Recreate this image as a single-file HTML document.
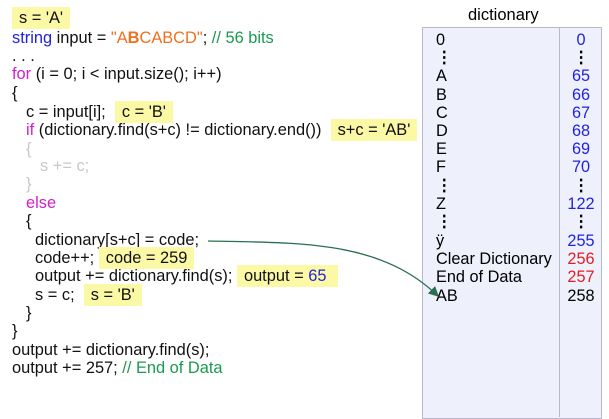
<!DOCTYPE html>
<html><head><meta charset="utf-8"><style>
body{margin:0;width:609px;height:415px;background:#fff;position:relative;overflow:hidden;font-family:"Liberation Sans",sans-serif;}
.l{position:absolute;font-size:16.4px;line-height:18px;white-space:pre;color:#111;}
.h{background:#fbf8a6;padding:2px 7px;}
.b{color:#2222dd}.m{color:#d020d0}.o{color:#f07020}.g{color:#1a9a50}.gr{color:#c8c8c8}
.panel{position:absolute;left:422px;top:27px;width:178px;height:390px;background:#eef1fc;border:1px solid #b8b8c8;}
.div{position:absolute;left:559px;top:27px;width:1px;height:390px;background:#b8b8c8;}
.d{position:absolute;font-size:16.3px;line-height:18px;white-space:pre;}
.r{position:absolute;font-size:16.3px;line-height:18px;width:38px;text-align:center;left:562px;}
</style></head><body>
<div class="l" style="top:9px;left:12px"><span class="h">s = 'A'</span></div>
<div class="l" style="top:29px;left:12px"><span class="b">string</span> input = <span class="o">"A<b>B</b>CABCD"</span>; <span class="g">// 56 bits</span></div>
<div class="l" style="top:47px;left:12px">. . .</div>
<div class="l" style="top:65px;left:12px"><span class="m">for</span> (i = 0; i &lt; input.size(); i++)</div>
<div class="l" style="top:84px;left:12px">{</div>
<div class="l" style="top:103px;left:26px">c = input[i];  <span class="h">c = 'B'</span></div>
<div class="l" style="top:121px;left:26px"><span class="m">if</span> (dictionary.find(s+c) != dictionary.end())  <span class="h">s+c = 'AB'</span></div>
<div class="l gr" style="top:140px;left:26px">{</div>
<div class="l gr" style="top:157px;left:40px">s += c;</div>
<div class="l gr" style="top:175px;left:26px">}</div>
<div class="l m" style="top:194px;left:26px">else</div>
<div class="l" style="top:212px;left:26px">{</div>
<div class="l" style="top:231px;left:35px">dictionary[s+c] = code;</div>
<div class="l" style="top:249px;left:35px">code++; <span class="h">code = 259</span></div>
<div class="l" style="top:267px;left:35px">output += dictionary.find(s); <span class="h">output = <span class="b">65</span> </span></div>
<div class="l" style="top:286px;left:35px">s = c;  <span class="h">s = 'B'</span></div>
<div class="l" style="top:304px;left:26px">}</div>
<div class="l" style="top:322px;left:12px">}</div>
<div class="l" style="top:341px;left:12px">output += dictionary.find(s);</div>
<div class="l" style="top:359px;left:12px">output += 257; <span class="g">// End of Data</span></div>

<div class="d" style="top:6px;left:468px;font-size:16.5px">dictionary</div>
<div class="panel"></div><div class="div"></div>
<div class="d" style="top:31px;left:436px">0</div>
<div class="d" style="top:49px;left:436px;font-weight:bold">⋮</div>
<div class="d" style="top:67px;left:436px">A</div>
<div class="d" style="top:86px;left:436px">B</div>
<div class="d" style="top:104px;left:436px">C</div>
<div class="d" style="top:122px;left:436px">D</div>
<div class="d" style="top:140px;left:436px">E</div>
<div class="d" style="top:158px;left:436px">F</div>
<div class="d" style="top:177px;left:436px;font-weight:bold">⋮</div>
<div class="d" style="top:195px;left:436px">Z</div>
<div class="d" style="top:213px;left:436px;font-weight:bold">⋮</div>
<div class="d" style="top:232px;left:436px">ÿ</div>
<div class="d" style="top:250px;left:436px">Clear Dictionary</div>
<div class="d" style="top:268px;left:436px">End of Data</div>
<div class="d" style="top:287px;left:436px">AB</div>
<div class="r b" style="top:31px">0</div>
<div class="r" style="top:49px;font-weight:bold">⋮</div>
<div class="r b" style="top:67px">65</div>
<div class="r b" style="top:86px">66</div>
<div class="r b" style="top:104px">67</div>
<div class="r b" style="top:122px">68</div>
<div class="r b" style="top:140px">69</div>
<div class="r b" style="top:158px">70</div>
<div class="r" style="top:177px;font-weight:bold">⋮</div>
<div class="r b" style="top:195px">122</div>
<div class="r" style="top:213px;font-weight:bold">⋮</div>
<div class="r b" style="top:232px">255</div>
<div class="r" style="top:250px;color:#e02020">256</div>
<div class="r" style="top:268px;color:#e02020">257</div>
<div class="r" style="top:287px">258</div>

<svg width="609" height="415" style="position:absolute;left:0;top:0">
<defs><marker id="a" markerWidth="8" markerHeight="8" refX="7" refY="4" orient="auto"><path d="M0,0 L8,4 L0,8z" fill="#2a7050"/></marker></defs>
<path d="M208,241 C300,243 380,240 438,296" fill="none" stroke="#2a7050" stroke-width="1.3" marker-end="url(#a)"/>
</svg>
</body></html>
